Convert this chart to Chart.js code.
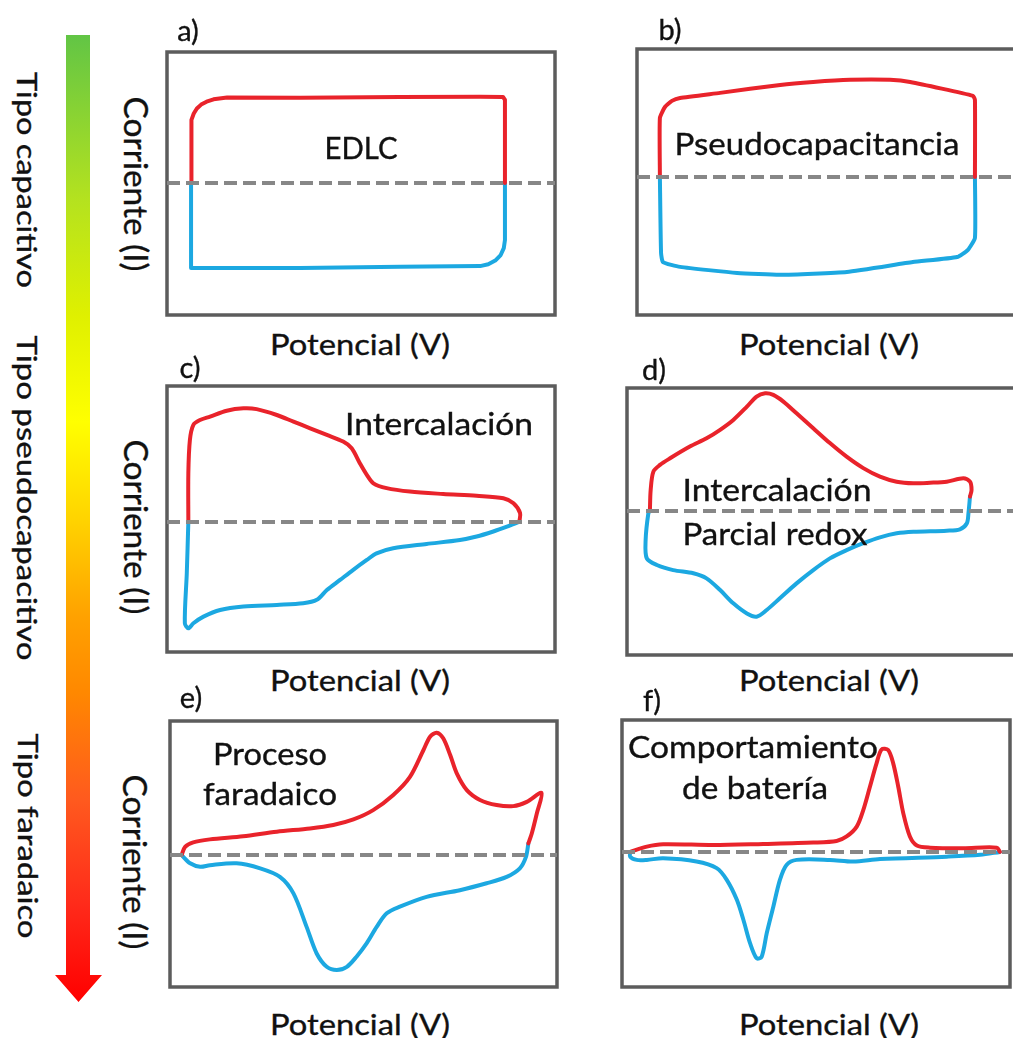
<!DOCTYPE html>
<html>
<head>
<meta charset="utf-8">
<script src="https://cdn.jsdelivr.net/npm/chart.js@4.4.1/dist/chart.umd.min.js"></script>
<style>
html,body{margin:0;padding:0;background:#fff;overflow:hidden;width:1013px;height:1038px;}
#stage{position:relative;width:1013px;height:1038px;overflow:hidden;background:#fff;}
canvas{position:absolute;}
.t{position:absolute;font-family:Lato,"Open Sans",sans-serif;color:#111;white-space:nowrap;line-height:1;-webkit-text-stroke:0.35px #111;}
#arrow{position:absolute;left:55px;top:35px;width:47px;height:967px;
  background:linear-gradient(to bottom,#62c545 0%,#b4e21f 17%,#dff000 29%,#ffff00 40%,#ffd400 50%,#ffa200 60%,#ff8800 68%,#ff5a1e 79%,#ff2a1a 90%,#ff0000 100%);
  clip-path:polygon(11px 0,35px 0,35px 940px,47px 940px,23.5px 967px,0 940px,11px 940px);}
</style>
</head>
<body>
<div id="stage"><div id="arrow"></div></div>
<script>
// ---------- data (potential in % of sweep window, current in arbitrary units) ----------
// a) EDLC
const aAnodicV   = [6.2,6.2,6.4,6.9,7.7,8.8,10.2,12.0,15.5,34.3,60.1,80.7,86.6,87.1,87.1];
const aAnodicI   = [0,20.5,24.0,26.4,28.3,29.8,30.9,31.8,32.5,32.4,32.7,32.8,32.7,31.6,0];
const aCathodicV = [87.1,87.1,86.8,86.0,84.6,82.8,80.7,60.1,34.3,6.4,6.2];
const aCathodicI = [0,-21.7,-24.8,-27.4,-29.5,-30.9,-31.6,-31.9,-32.3,-32.3,0];
// b) Pseudocapacitancia
const bAnodicV   = [5.9,5.9,7.2,9.0,11.1,21.4,36.9,45.4,54.9,65.2,70.4,86.6,87.1,87.1];
const bAnodicI   = [0,22.2,26.3,28.6,29.7,31.6,34.6,35.7,36.5,36.5,35.7,30.5,28.9,0];
const bCathodicV = [87.1,87.1,85.3,82.5,71.1,54.1,36.9,25.8,11.1,6.7,6.2,5.9];
const bCathodicI = [0,-22.9,-27.4,-30.1,-32.0,-35.7,-36.8,-36.1,-33.8,-32.0,-28.6,0];
// c) Intercalación
const cAnodicV   = [5.5,5.5,5.9,6.8,8.5,11.1,15.4,19.7,23.1,28.3,32.6,36.9,41.2,45.4,47.6,49.7,51.5,53.2,56.6,62.6,71.2,79.8,86.7,89.3,91.0,90.8];
const cAnodicI   = [0,18.3,30.8,36.5,38.3,39.6,41.8,42.7,42.4,40.2,37.7,35.2,32.7,30.2,27.7,22.1,17.7,14.5,12.7,11.4,10.5,9.8,8.9,7.0,3.3,0];
const cCathodicV = [90.8,87.6,84.1,79.8,75.5,66.9,58.3,54.0,51.5,48.0,44.6,41.2,38.6,35.1,28.3,19.7,13.7,9.4,6.8,5.5,4.6,5.1,5.5];
const cCathodicI = [0,-1.8,-3.6,-5.5,-6.8,-8.3,-9.9,-11.8,-14.3,-18.0,-21.8,-25.6,-29.3,-30.6,-31.2,-31.8,-33.1,-35.6,-38.1,-40.0,-38.1,-19.3,0];
// d) Intercalación / Parcial redox
const dAnodicV   = [5.9,6.1,6.8,8.5,11.1,16.2,20.5,24.0,27.4,30.9,33.4,35.6,37.7,40.3,43.7,48.0,52.3,56.6,60.9,65.2,69.5,73.8,78.1,82.4,86.7,88.4,88.8,88.4];
const dAnodicI   = [0,7.9,14.8,17.3,19.8,24.2,27.3,30.5,34.2,39.2,43.0,44.2,43.6,41.1,36.7,31.1,25.5,20.4,16.1,12.9,11.0,10.4,10.6,11.0,12.3,11.0,7.9,5.4];
const dCathodicV = [88.4,88.0,87.6,85.8,82.4,73.8,69.5,65.2,60.9,56.6,52.3,48.0,43.7,39.4,36.0,33.4,30.9,27.4,24.0,20.5,17.1,11.9,7.7,5.1,4.8,5.5,5.9];
const dCathodicI = [5.4,-0.9,-4.6,-6.9,-7.4,-7.8,-8.4,-9.9,-12.1,-14.7,-17.8,-22.2,-27.2,-32.8,-37.2,-39.7,-38.5,-34.7,-29.7,-25.3,-23.4,-22.2,-20.3,-17.8,-10.9,-0.9,0];
// e) Proceso faradaico
const eAnodicV   = [3.0,3.9,6.0,10.3,18.9,27.6,36.2,42.2,47.4,52.5,57.7,62.0,65.5,67.2,68.9,70.6,72.4,74.1,76.7,80.1,84.4,88.7,92.2,96.0,94.8,93.5,92.6];
const eAnodicI   = [0,3.1,4.8,5.9,7.1,8.8,10.0,11.3,13.4,16.9,22.6,29.4,39.5,44.5,46.0,43.9,37.6,30.7,24.4,20.7,18.8,18.4,20.0,23.4,15.7,8.2,4.4];
const eCathodicV = [92.6,92.0,90.4,87.0,81.8,74.9,66.3,59.4,56.0,53.4,50.8,48.2,45.7,43.1,40.5,37.9,35.3,31.9,28.4,23.3,17.2,10.3,7.8,5.2,3.0];
const eCathodicI = [4.4,-0.6,-5.0,-8.2,-10.6,-13.2,-15.7,-19.4,-21.9,-27.0,-33.2,-38.2,-42.0,-43.2,-42.0,-37.0,-27.0,-14.4,-8.2,-5.0,-3.1,-3.8,-4.4,-3.1,0];
// f) Comportamiento de batería
const fAnodicV   = [2.1,6.4,10.6,23.5,36.4,49.3,55.3,57.9,60.5,62.2,63.9,65.6,66.9,68.6,69.9,71.2,72.5,74.2,76.0,79.4,88.0,96.6,97.4];
const fAnodicI   = [0,2.0,2.9,2.6,3.0,3.5,4.1,5.8,9.5,15.8,24.5,33.3,38.5,38.3,33.3,24.5,14.5,5.8,2.4,1.6,1.4,1.6,0];
const fCathodicV = [97.4,92.3,83.7,66.5,59.6,53.6,45.0,42.4,40.7,39.0,37.3,36.0,34.7,33.0,31.3,29.6,27.0,24.4,19.2,10.6,6.4,3.8,2.1,2.1];
const fCathodicI = [0,-1.1,-1.8,-2.7,-3.6,-3.0,-3.0,-4.9,-10.5,-20.6,-30.6,-39.4,-40.0,-34.3,-25.6,-18.0,-10.5,-6.1,-3.6,-2.4,-3.0,-3.0,-1.8,0];
// zero-current reference line
const zeroLineV = [0,100];
const zeroLineI = [0,0];

// ---------- texts ----------
const panelLetters = ["a)","b)","c)","d)","e)","f)"];
const xAxisTitle = "Potencial (V)";
const yAxisTitle = "Corriente (I)";
const sideLabels = ["Tipo capacitivo","Tipo pseudocapacitivo","Tipo faradaico"];

const RED = "#e9232b", BLUE = "#1ca8e1";
const stage = document.getElementById("stage");
const zip = (xs, ys) => xs.map((x, i) => ({x: x, y: ys[i]}));

const boxPlugin = {
  id: "box",
  beforeDatasetsDraw(chart) {
    const a = chart.chartArea, ctx = chart.ctx;
    ctx.save();
    ctx.strokeStyle = "#5c5c5c";
    ctx.lineWidth = 3.5;
    ctx.strokeRect(a.left, a.top, a.right - a.left, a.bottom - a.top);
    ctx.restore();
  }
};

const panels = [
  {left:167, top:52,  w:388, h:263, ymin:-50.2, ymax:49.8, tension:0,    ox:[aAnodicV,aAnodicI], red:[aCathodicV,aCathodicI]},
  {left:637, top:49,  w:388, h:266, ymin:-51.9, ymax:48.1, tension:0.15, ox:[bAnodicV,bAnodicI], red:[bCathodicV,bCathodicI]},
  {left:167, top:386, w:388, h:266, ymin:-48.9, ymax:51.1, tension:0.3,  ox:[cAnodicV,cAnodicI], red:[cCathodicV,cCathodicI]},
  {left:627, top:388, w:388, h:267, ymin:-54.1, ymax:46.2, tension:0.3,  ox:[dAnodicV,dAnodicI], red:[dCathodicV,dCathodicI]},
  {left:170, top:721, w:387, h:266, ymin:-49.6, ymax:50.4, tension:0.3,  ox:[eAnodicV,eAnodicI], red:[eCathodicV,eCathodicI]},
  {left:622, top:720, w:388, h:267, ymin:-50.8, ymax:49.6, tension:0.3,  ox:[fAnodicV,fAnodicI], red:[fCathodicV,fCathodicI]}
];

panels.forEach(p => {
  const pad = 6;
  const cv = document.createElement("canvas");
  cv.width = p.w + 2 * pad; cv.height = p.h + 2 * pad;
  cv.style.left = (p.left - pad) + "px"; cv.style.top = (p.top - pad) + "px";
  cv.style.width = cv.width + "px"; cv.style.height = cv.height + "px";
  stage.appendChild(cv);
  new Chart(cv, {
    type: "scatter",
    data: {datasets: [
      {label:"I = 0", data: zip(zeroLineV, zeroLineI), showLine:true, borderColor:"#878787", borderWidth:4, borderDash:[13,6], pointRadius:0, tension:0},
      {label:"Barrido anódico", data: zip(p.ox[0], p.ox[1]), showLine:true, borderColor:RED, borderWidth:4, pointRadius:0, tension:p.tension, borderCapStyle:"round", borderJoinStyle:"round"},
      {label:"Barrido catódico", data: zip(p.red[0], p.red[1]), showLine:true, borderColor:BLUE, borderWidth:4, pointRadius:0, tension:p.tension, borderCapStyle:"round", borderJoinStyle:"round"}
    ]},
    options: {
      responsive:false, animation:false, devicePixelRatio:1, events:[],
      layout:{padding:pad},
      plugins:{legend:{display:false}, tooltip:{enabled:false}},
      scales:{
        x:{type:"linear", min:0, max:100, display:false},
        y:{type:"linear", min:p.ymin, max:p.ymax, display:false}
      }
    },
    plugins:[boxPlugin]
  });
});

// text helper: cx, cy = centre; size = font px; len = target length (optional); rot = degrees
function addText(str, cx, cy, size, len, rot) {
  const d = document.createElement("div");
  d.className = "t";
  d.textContent = str;
  d.style.fontSize = size + "px";
  d.style.left = cx + "px"; d.style.top = cy + "px";
  stage.appendChild(d);
  let s = 1;
  if (len) s = len / d.getBoundingClientRect().width;
  d.style.transform = "translate(-50%,-50%)" + (rot ? " rotate(" + rot + "deg)" : "") + " scaleX(" + s.toFixed(3) + ")";
}

// panel letters
addText(panelLetters[0], 188, 29, 29);
addText(panelLetters[1], 670, 28, 29);
addText(panelLetters[2], 190, 366, 29);
addText(panelLetters[3], 654, 368, 29);
addText(panelLetters[4], 191, 696, 29);
addText(panelLetters[5], 652, 699, 29);

// x-axis titles
[[360,343],[829,343],[360,679],[829,679],[360,1023],[829,1023]].forEach(c => addText(xAxisTitle, c[0], c[1], 29, 180));
// y-axis titles (left column)
[[136,184],[136,527],[135,862]].forEach(c => addText(yAxisTitle, c[0], c[1], 32, 175, 90));
// side labels
addText(sideLabels[0], 27, 180, 26, 216, 90);
addText(sideLabels[1], 27, 498, 26, 325, 90);
addText(sideLabels[2], 28, 836, 26, 205, 90);

// annotations inside panels
addText("EDLC", 361, 147, 30, 73);
addText("Pseudocapacitancia", 817, 143, 30, 285);
addText("Intercalación", 439, 423, 30, 188);
addText("Intercalación", 777, 489, 30, 189);
addText("Parcial redox", 775, 533, 30, 185);
addText("Proceso", 270, 753, 30, 114);
addText("faradaico", 270, 793, 30, 134);
addText("Comportamiento", 753, 746, 30, 250);
addText("de batería", 755, 787, 30, 146);
</script>
</body>
</html>
